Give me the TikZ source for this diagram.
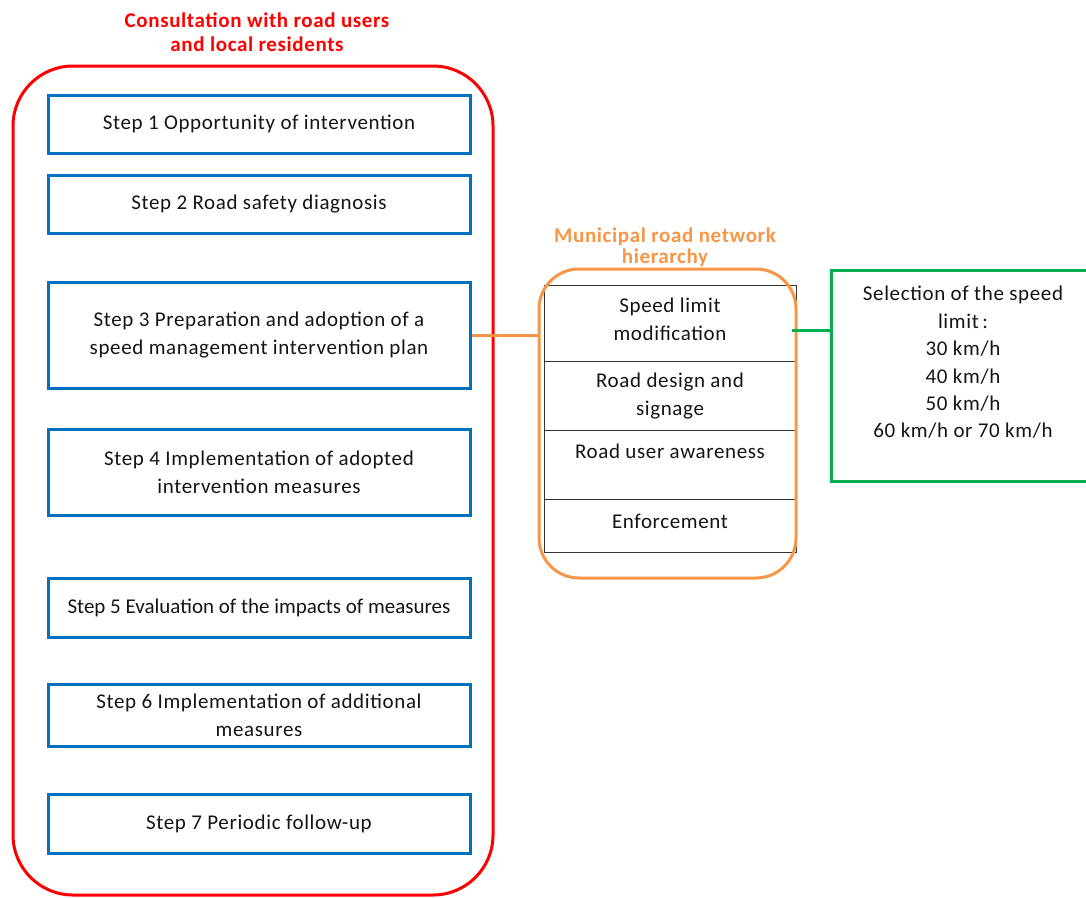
\documentclass[tikz,border=0pt]{standalone}
\usepackage{fontspec}
\setmainfont{Carlito}[LetterSpace=3]
\definecolor{stepblue}{RGB}{0,112,192}
\definecolor{hierorange}{RGB}{247,150,70}
\definecolor{selgreen}{RGB}{0,176,80}
\definecolor{consultred}{RGB}{255,0,0}
\definecolor{txt}{RGB}{20,20,20}
\begin{document}
\begin{tikzpicture}[x=1pt,y=-1pt,
  stepbox/.style={draw=stepblue, line width=3pt, minimum width=422pt, align=center,
    font=\fontsize{21}{28}\selectfont, text=txt, inner sep=0pt},
  rowbox/.style={draw=black!80, line width=0.9pt, minimum width=252pt, inner sep=0pt},
  titletext/.style={font=\fontsize{21}{24}\bfseries, align=center},
  bodytext/.style={font=\fontsize{21}{27.4}\selectfont, text=txt, align=center}
]
\useasboundingbox (0,0) rectangle (1086,897);
\clip (0,0) rectangle (1086,897);

% consultation frame
\node[draw=consultred, line width=3pt, rounded corners=60pt, minimum width=480pt,
  minimum height=829pt] (consult) at (253,480.5) {};
\node[titletext, text=consultred] (consulttitle) at (257,32) {Consultation with road users\\and local residents};

% steps
\node[stepbox, minimum height=58pt] (s1) at (259,124) {Step 1 Opportunity of intervention};
\node[stepbox, minimum height=58pt] (s2) at (259,204) {Step 2 Road safety diagnosis};
\node[stepbox, minimum height=106pt] (s3) at (259,335) {Step 3 Preparation and adoption of a\\speed management intervention plan};
\node[stepbox, minimum height=86pt] (s4) at (259,472) {Step 4 Implementation of adopted\\intervention measures};
\node[stepbox, minimum height=59pt, font=\fontsize{21}{28}\selectfont\addfontfeature{LetterSpace=0}] (s5) at (259,607.5) {Step 5 Evaluation of the impacts of measures};
\node[stepbox, minimum height=62pt] (s6) at (259,715) {Step 6 Implementation of additional\\measures};
\node[stepbox, minimum height=59pt] (s7) at (259,823.5) {Step 7 Periodic follow-up};

% hierarchy table
\node[rowbox, minimum height=76pt] (r1) at (670,323) {};
\node[rowbox, minimum height=69pt] (r2) at (670,395.5) {};
\node[rowbox, minimum height=69pt] (r3) at (670,464.5) {};
\node[rowbox, minimum height=53pt] (r4) at (670,525.5) {};
\node[bodytext, font=\fontsize{21}{28}\selectfont] (r1text) at (670,319) {Speed limit\\modification};
\node[bodytext, font=\fontsize{21}{28}\selectfont] (r2text) at (670,396) {Road design and\\signage};
\node[bodytext] (r3text) at (670,451) {Road user awareness};
\node[bodytext] (r4text) at (670,521) {Enforcement};
\node[draw=hierorange, line width=3pt, rounded corners=40pt, minimum width=257pt,
  minimum height=309pt] (hier) at (667.5,423.5) {};
\node[titletext, text=hierorange, font=\fontsize{21}{21}\bfseries] (hiertitle) at (665,247.5) {Municipal road network\\hierarchy};

% selection box
\node[draw=selgreen, line width=3pt, minimum width=264pt, minimum height=211pt] (sel) at (963,375.5) {};
\node[bodytext] (seltext) at (963,362.5) {Selection of the speed\\limit\,:\\30 km/h\\40 km/h\\50 km/h\\60 km/h or 70 km/h};

% connectors
\draw[hierorange, line width=3pt] (s3.east) -- (hier.west |- s3.east);
\coordinate (gstart) at (792,330);
\draw[selgreen, line width=3pt] (gstart) -- (sel.west |- gstart);
\end{tikzpicture}
\end{document}
